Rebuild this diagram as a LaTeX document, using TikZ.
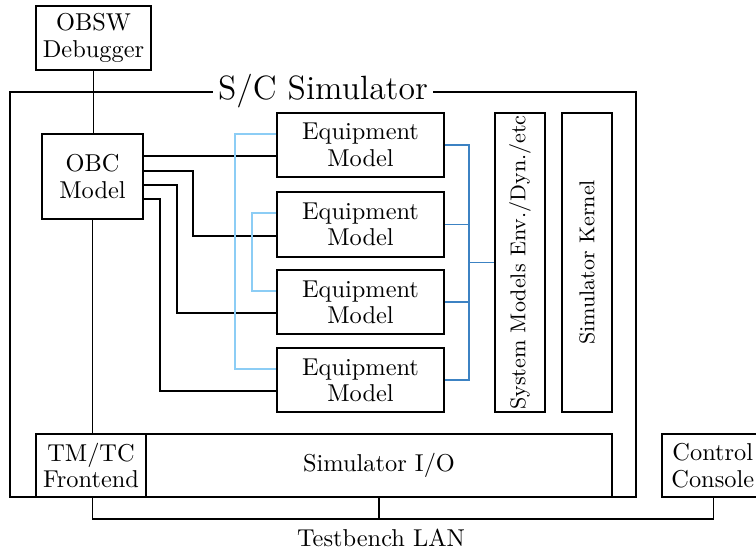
\documentclass[tikz,border=0pt]{standalone}
\usetikzlibrary{fit,calc}
\definecolor{lightbus}{RGB}{140,205,245}
\definecolor{darkbus}{RGB}{60,130,195}
\begin{document}
\begin{tikzpicture}[x=0.41pt,y=-0.41pt,
  box/.style={draw, line width=0.7pt, inner sep=0pt},
  wire/.style={line width=0.7pt},
  lwire/.style={line width=0.7pt, draw=lightbus},
  dwire/.style={line width=0.7pt, draw=darkbus},
  lbl/.style={inner sep=0pt, align=center, font=\fontsize{10}{10.8}\selectfont},
  vlbl/.style={inner sep=0pt, rotate=90, font=\fontsize{8.8}{10}\selectfont}]
\useasboundingbox (0,0) rectangle (756,551);

% simulator frame and its title
\node[box, fit={(10,92)(636,497)}] (sim) {};
\node[fill=white, inner sep=2pt, font=\fontsize{13.8}{16}\selectfont] (title) at (sim.north) {S/C Simulator};

% boxes
\node[box, fit={(36,6)(151,70)}] (obsw) {};
\node[box, fit={(42,134)(143,219)}] (obc) {};
\node[box, fit={(277,113)(444,177)}] (eq1) {};
\node[box, fit={(277,192)(444,257)}] (eq2) {};
\node[box, fit={(277,270)(444,334)}] (eq3) {};
\node[box, fit={(277,348)(444,412)}] (eq4) {};
\node[box, fit={(495,113)(545,412)}] (sysm) {};
\node[box, fit={(562,113)(612,412)}] (kern) {};
\node[box, fit={(36,434)(146,497)}] (tmtc) {};
\node[box, fit={(146,434)(612,497)}] (io) {};
\node[box, fit={(662,434)(765,497)}] (console) {};

% box texts
\node[lbl] (obswtxt) at (obsw.center) {OBSW\\Debugger};
\node[lbl] (obctxt) at (obc.center) {OBC\\Model};
\foreach \i in {1,...,4}
  \node[lbl] (eq\i txt) at (eq\i.center) {Equipment\\Model};
\node[vlbl] (sysmtxt) at (sysm.center) {System Models Env./Dyn./etc};
\node[vlbl] (kerntxt) at (kern.center) {Simulator Kernel};
\node[lbl] (tmtctxt) at (tmtc.center) {TM/TC\\Frontend};
\node[lbl] (iotxt) at (io.center) {Simulator I/O};
\node[lbl, anchor=west] (consoletxt) at ([xshift=4pt]console.west) {Control\\Console};
\node[lbl] (lan) at (381,538) {Testbench LAN};

% attachment points on the equipment models
\foreach \i in {1,...,4} {
  \coordinate (eq\i a) at ($(eq\i.north west)!0.33!(eq\i.south west)$);
  \coordinate (eq\i b) at ($(eq\i.north west)!0.67!(eq\i.south west)$);
}

% debugger link through the OBC model
\draw[wire] (obsw.south) -- (obsw.south |- obc.north);
\draw[wire] (obc.south) -- (obc.south |- tmtc.north);

% OBC model to equipment models
\draw[wire] (obc.east |- eq1b) -- (eq1b);
\draw[wire] (obc.east |- 0,171) -| (193,0 |- eq2b) -- (eq2b);
\draw[wire] (obc.east |- 0,185) -| (177,0 |- eq3b) -- (eq3b);
\draw[wire] (obc.east |- 0,199) -| (160,0 |- eq4b) -- (eq4b);

% links between equipment models
\draw[lwire] (eq1a) -| (235,0 |- eq4a) -- (eq4a);
\draw[lwire] (eq2a) -| (252,0 |- eq3a) -- (eq3a);

% bus to the system models
\draw[dwire] (eq1.east) -| (469,0 |- eq4.east) -- (eq4.east);
\draw[dwire] (eq2.east) -- (469,0 |- eq2.east);
\draw[dwire] (eq3.east) -- (469,0 |- eq3.east);
\draw[dwire] (469,0 |- sysm.west) -- (sysm.west);

% testbench LAN
\draw[wire] (obc.south |- tmtc.south) |- (console.south |- 0,519) -- (console.south);
\draw[wire] (io.south) -- (io.south |- 0,519);
\end{tikzpicture}
\end{document}
